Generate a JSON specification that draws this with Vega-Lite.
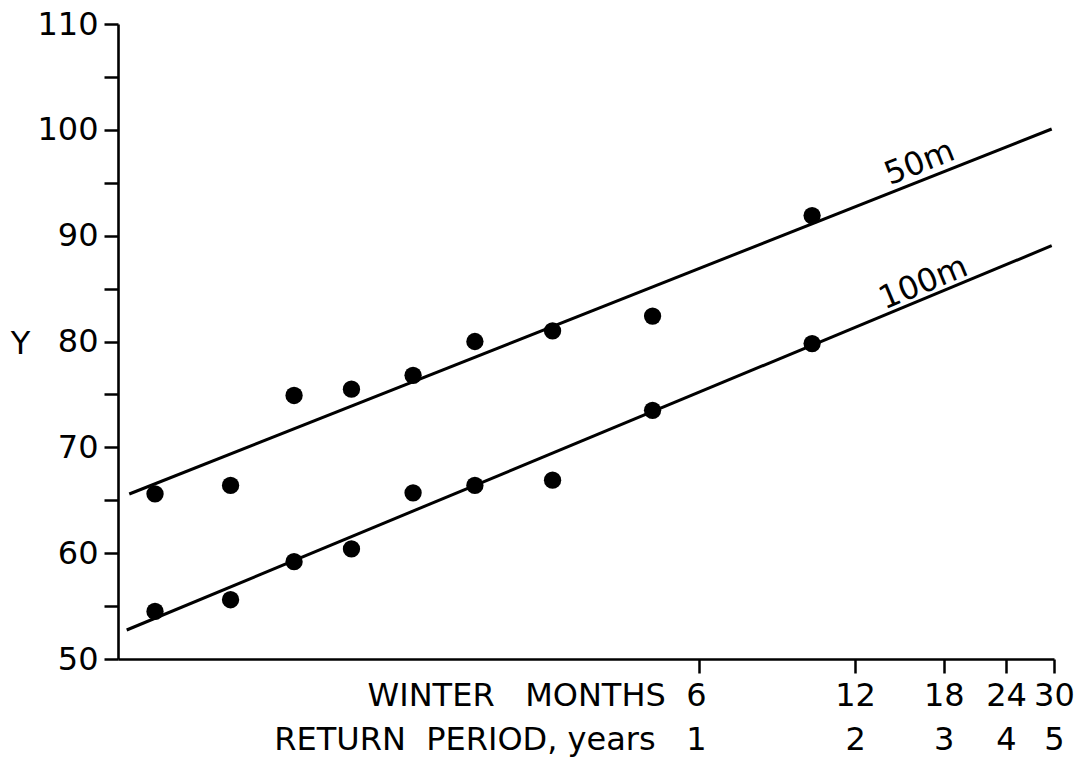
{
  "$schema": "https://vega.github.io/schema/vega-lite/v6.json",
  "width": 936,
  "height": 635,
  "autosize": {"type": "none"},
  "padding": {"left": 118, "top": 24, "right": 37, "bottom": 102},
  "background": "white",
  "config": {"view": {"stroke": null}, "font": "DejaVu Sans"},
  "datasets": {
    "points": [
      {"series": "50m", "x": -0.876, "y": 65.6},
      {"series": "50m", "x": -0.518, "y": 66.4},
      {"series": "50m", "x": -0.217, "y": 74.9},
      {"series": "50m", "x": 0.055, "y": 75.5},
      {"series": "50m", "x": 0.347, "y": 76.8},
      {"series": "50m", "x": 0.64, "y": 80.0},
      {"series": "50m", "x": 1.008, "y": 81.0},
      {"series": "50m", "x": 1.482, "y": 82.4},
      {"series": "50m", "x": 2.238, "y": 91.9},
      {"series": "100m", "x": -0.876, "y": 54.5},
      {"series": "100m", "x": -0.518, "y": 55.6},
      {"series": "100m", "x": -0.217, "y": 59.2},
      {"series": "100m", "x": 0.055, "y": 60.4},
      {"series": "100m", "x": 0.347, "y": 65.7},
      {"series": "100m", "x": 0.64, "y": 66.4},
      {"series": "100m", "x": 1.008, "y": 66.9},
      {"series": "100m", "x": 1.482, "y": 73.5},
      {"series": "100m", "x": 2.238, "y": 79.8}
    ],
    "lines": [
      {"series": "50m", "x": -0.998, "y": 65.59},
      {"series": "50m", "x": 3.3735, "y": 100.08},
      {"series": "100m", "x": -1.0102, "y": 52.74},
      {"series": "100m", "x": 3.3735, "y": 89.05}
    ],
    "labels": [
      {"label": "50m", "x": 2.7768, "y": 95.39},
      {"label": "100m", "x": 2.7925, "y": 84.23}
    ]
  },
  "layer": [
    {
      "data": {"name": "lines"},
      "mark": {"type": "line", "color": "black", "strokeWidth": 3},
      "encoding": {
        "x": {
          "field": "x", "type": "quantitative",
          "scale": {"domain": [-1.0514, 3.3844], "nice": false, "zero": false},
          "axis": {
            "values": [1.70198, 2.44172, 2.86192, 3.15689, 3.3843],
            "labelExpr": "datum.value < 2 ? ['WINTER\u00a0\u00a0\u00a0MONTHS\u00a0\u00a06', 'RETURN\u00a0\u00a0PERIOD,\u00a0years\u00a0\u00a0\u00a01'] : datum.value < 2.6 ? ['12', '2'] : datum.value < 3 ? ['18', '3'] : datum.value < 3.3 ? ['24', '4'] : ['30', '5']",
            "labelAlign": {"condition": {"test": "datum.value < 2", "value": "right"}, "value": "center"},
            "labelOffset": {"condition": {"test": "datum.value < 2", "value": 7}, "value": 0},
            "labelBaseline": "top",
            "labelLineHeight": 44,
            "labelPadding": 7,
            "labelFontSize": 32,
            "labelColor": "black",
            "labelLimit": 0,
            "labelFlush": false,
            "labelOverlap": false,
            "labelBound": false,
            "tickSize": 14,
            "tickWidth": 2.5,
            "tickColor": "black",
            "domainColor": "black",
            "domainWidth": 2.6,
            "grid": false,
            "title": null
          }
        },
        "y": {
          "field": "y", "type": "quantitative",
          "scale": {"domain": [50, 110], "nice": false, "zero": false},
          "axis": {
            "values": [50, 55, 60, 65, 70, 75, 80, 85, 90, 95, 100, 105, 110],
            "labelExpr": "datum.value % 10 == 0 ? datum.label : ''",
            "labelFontSize": 32,
            "labelColor": "black",
            "labelPadding": 6,
            "labelLimit": 0,
            "labelOverlap": false,
            "labelFlush": false,
            "labelBound": false,
            "tickSize": 14,
            "tickWidth": 2.5,
            "tickColor": "black",
            "domainColor": "black",
            "domainWidth": 2.6,
            "grid": false,
            "title": "Y",
            "titleAngle": 0,
            "titleX": -98,
            "titleY": 319,
            "titleAlign": "center",
            "titleBaseline": "middle",
            "titleFontSize": 32,
            "titleFontWeight": "normal",
            "titleColor": "black"
          }
        },
        "detail": {"field": "series"}
      }
    },
    {
      "data": {"name": "points"},
      "mark": {"type": "point", "filled": true, "color": "black", "opacity": 1, "size": 300},
      "encoding": {
        "x": {"field": "x", "type": "quantitative"},
        "y": {"field": "y", "type": "quantitative"}
      }
    },
    {
      "data": {"name": "labels"},
      "transform": [{"filter": "datum.label == '50m'"}],
      "mark": {"type": "text", "angle": 338.4, "align": "center", "baseline": "alphabetic", "dy": -7, "fontSize": 32, "color": "black"},
      "encoding": {
        "x": {"field": "x", "type": "quantitative"},
        "y": {"field": "y", "type": "quantitative"},
        "text": {"field": "label"}
      }
    },
    {
      "data": {"name": "labels"},
      "transform": [{"filter": "datum.label == '100m'"}],
      "mark": {"type": "text", "angle": 337.4, "align": "center", "baseline": "alphabetic", "dy": -5, "fontSize": 32, "color": "black"},
      "encoding": {
        "x": {"field": "x", "type": "quantitative"},
        "y": {"field": "y", "type": "quantitative"},
        "text": {"field": "label"}
      }
    }
  ]
}
